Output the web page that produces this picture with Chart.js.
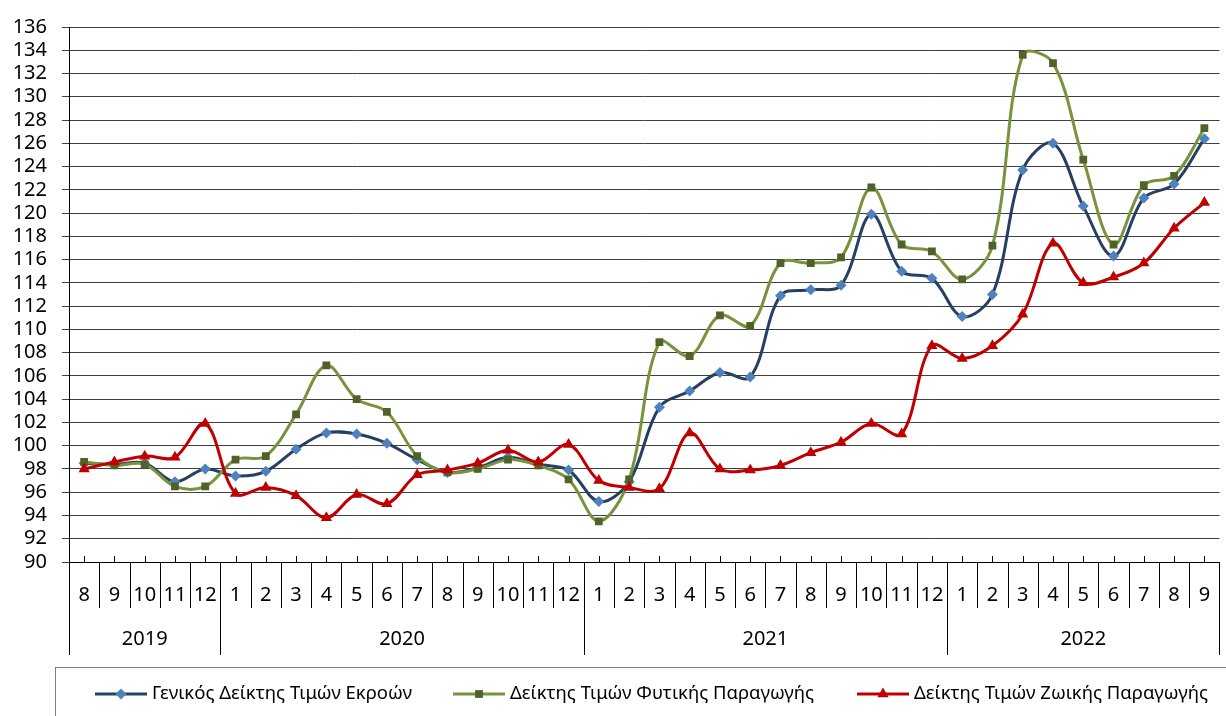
<!DOCTYPE html>
<html>
<head>
<meta charset="utf-8">
<script src="https://cdn.jsdelivr.net/npm/chart.js@4.4.0/dist/chart.umd.min.js"></script>
<style>
html,body{margin:0;padding:0;background:#fff;}
#wrap{width:1226px;height:716px;position:relative;overflow:hidden;}
</style>
</head>
<body>
<div id="wrap"><canvas id="c" width="1226" height="716"></canvas></div>
<script>
// ---- data ----
const months = [8,9,10,11,12, 1,2,3,4,5,6,7,8,9,10,11,12, 1,2,3,4,5,6,7,8,9,10,11,12, 1,2,3,4,5,6,7,8,9];
const yearLabels = ['2019','2020','2021','2022'];
const seriesNames = ['Γενικός Δείκτης Τιμών Εκροών','Δείκτης Τιμών Φυτικής Παραγωγής','Δείκτης Τιμών Ζωικής Παραγωγής'];
const generalIndex = [98.5,98.4,98.5,96.9,98.0,
  97.4,97.8,99.7,101.1,101.0,100.2,98.8,97.7,98.1,99.0,98.4,97.9,
  95.2,96.9,103.3,104.7,106.3,105.9,112.9,113.4,113.8,119.9,115.0,114.4,
  111.1,113.0,123.7,126.0,120.6,116.3,121.3,122.5,126.4];
const cropIndex = [98.6,98.3,98.4,96.5,96.5,
  98.8,99.1,102.7,106.9,104.0,102.9,99.1,97.7,98.0,98.8,98.3,97.1,
  93.5,97.1,108.9,107.7,111.2,110.3,115.7,115.7,116.2,122.2,117.3,116.7,
  114.3,117.2,133.6,132.9,124.6,117.3,122.4,123.2,127.3];
const livestockIndex = [98.0,98.6,99.1,99.0,101.9,
  95.9,96.4,95.7,93.8,95.8,95.0,97.5,97.9,98.5,99.6,98.6,100.1,
  97.0,96.4,96.3,101.1,98.0,97.9,98.3,99.4,100.3,101.9,101.0,108.6,
  107.5,108.6,111.3,117.4,114.0,114.5,115.7,118.7,120.9];
const yMin = 90, yMax = 136, yStep = 2;

// ---- styles ----
const lineColors = ['#254061','#77933C','#C00000'];
const markerColors = ['#4F81BD','#4F6228','#C00000'];
const markerStyles = ['rectRot','rect','triangle'];
const markerRadii = [5.5,5.5,6.5];
const FONT = '"Noto Sans", "Open Sans", sans-serif';

function drawMarker(ctx, style, x, y, r, color){
  ctx.save();
  ctx.fillStyle = color;
  ctx.beginPath();
  if (style === 'rectRot'){
    ctx.moveTo(x, y - r); ctx.lineTo(x + r, y); ctx.lineTo(x, y + r); ctx.lineTo(x - r, y);
  } else if (style === 'rect'){
    const s = r * Math.SQRT1_2;
    ctx.rect(x - s, y - s, 2*s, 2*s);
  } else {
    ctx.moveTo(x, y - r);
    ctx.lineTo(x + r*Math.sin(Math.PI*2/3), y - r*Math.cos(Math.PI*2/3));
    ctx.lineTo(x - r*Math.sin(Math.PI*2/3), y - r*Math.cos(Math.PI*2/3));
  }
  ctx.closePath();
  ctx.fill();
  ctx.restore();
}

// draws year row, separators, inner ticks and framed legend
const decorPlugin = {
  id: 'decor',
  afterDraw(chart){
    const ctx = chart.ctx;
    const xs = chart.scales.x;
    const area = chart.chartArea;
    const n = months.length;
    const w = (xs.getPixelForValue(1) - xs.getPixelForValue(0));
    const axisY = area.bottom;
    ctx.save();
    ctx.strokeStyle = '#000';
    ctx.lineWidth = 1;
    // small ticks above axis at category centres
    for (let i = 0; i < n; i++){
      const x = Math.round(xs.getPixelForValue(i)) + 0.5;
      ctx.beginPath(); ctx.moveTo(x, axisY - 6); ctx.lineTo(x, axisY); ctx.stroke();
    }
    // month separators
    for (let i = 0; i <= n; i++){
      const x = Math.round(xs.getPixelForValue(i) - w/2) + 0.5;
      ctx.beginPath(); ctx.moveTo(x, axisY); ctx.lineTo(x, axisY + 46); ctx.stroke();
    }
    // year groups
    const starts = [0];
    for (let i = 1; i < n; i++) if (months[i] < months[i-1]) starts.push(i);
    starts.push(n);
    ctx.fillStyle = '#000';
    ctx.font = '20px ' + FONT;
    ctx.textAlign = 'center';
    ctx.textBaseline = 'middle';
    for (let g = 0; g < starts.length; g++){
      const x = Math.round(xs.getPixelForValue(starts[g]) - w/2) + 0.5;
      ctx.beginPath(); ctx.moveTo(x, axisY); ctx.lineTo(x, axisY + 93); ctx.stroke();
      if (g < yearLabels.length){
        const a = xs.getPixelForValue(starts[g]) - w/2;
        const b = xs.getPixelForValue(starts[g+1]) - w/2;
        ctx.fillText(yearLabels[g], (a + b)/2, axisY + 77);
      }
    }
    // legend frame
    ctx.strokeStyle = '#7f7f7f';
    ctx.strokeRect(55.5, 667.5, 1300, 100);
    // legend items
    const itemX = [95, 453, 857];
    const ly = 694;
    ctx.font = '18.5px ' + FONT;
    ctx.textAlign = 'left';
    for (let k = 0; k < 3; k++){
      ctx.strokeStyle = lineColors[k];
      ctx.lineWidth = 3;
      ctx.beginPath(); ctx.moveTo(itemX[k], ly); ctx.lineTo(itemX[k] + 52, ly); ctx.stroke();
      drawMarker(ctx, markerStyles[k], itemX[k] + 26, ly, markerRadii[k], markerColors[k]);
      ctx.fillStyle = '#000';
      ctx.fillText(seriesNames[k], itemX[k] + 57, ly);
    }
    ctx.restore();
  }
};

const seriesData = [generalIndex, cropIndex, livestockIndex];
const datasets = seriesData.map((d, k) => ({
  label: seriesNames[k],
  data: d,
  borderColor: lineColors[k],
  backgroundColor: markerColors[k],
  pointBackgroundColor: markerColors[k],
  pointBorderColor: markerColors[k],
  pointBorderWidth: 0,
  pointStyle: markerStyles[k],
  pointRadius: markerRadii[k],
  borderWidth: 3,
  tension: 0.35,
  fill: false,
  order: 2 - k
}));

new Chart(document.getElementById('c'), {
  type: 'line',
  data: { labels: months.map(String), datasets },
  options: {
    responsive: false,
    animation: false,
    devicePixelRatio: 1,
    layout: { padding: { top: 20, right: 0, left: 0, bottom: 0 } },
    plugins: { legend: { display: false }, tooltip: { enabled: false } },
    scales: {
      x: {
        type: 'category',
        offset: true,
        grid: { display: false },
        border: { display: true, color: '#000', width: 1 },
        ticks: { autoSkip: false, maxRotation: 0, color: '#000', font: { family: FONT, size: 20 }, padding: 13 },
        afterFit(s){ s.height = 154; }
      },
      y: {
        min: yMin, max: yMax,
        grid: { color: '#404040', lineWidth: 1, tickLength: 7, drawTicks: true },
        border: { display: true, color: '#000', width: 1 },
        ticks: { stepSize: yStep, autoSkip: false, color: '#000', font: { family: FONT, size: 20 }, padding: 15 },
        afterFit(s){ s.width = 69; }
      }
    }
  },
  plugins: [decorPlugin]
});
</script>
</body>
</html>
